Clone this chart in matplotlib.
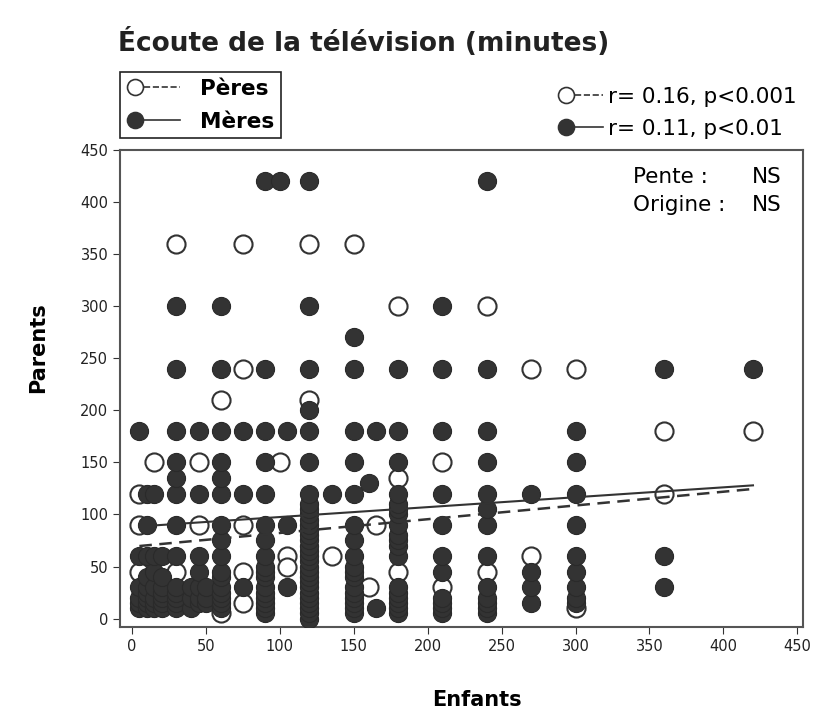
import matplotlib
matplotlib.use("Agg")
import matplotlib.pyplot as plt
from matplotlib.lines import Line2D
from matplotlib.legend_handler import HandlerBase

# --- data: (child minutes, parent minutes) ---
peres_x = [30, 75, 120, 150, 180, 240, 75, 270, 300, 60, 120, 360, 420,
           15, 45, 100, 210, 180, 5, 360, 5, 45, 75, 165,
           105, 135, 270, 5, 30, 75, 105, 180, 240, 160, 210, 75, 60, 300]
peres_y = [360, 360, 360, 360, 300, 300, 240, 240, 240, 210, 210, 180, 180,
           150, 150, 150, 150, 135, 120, 120, 90, 90, 90, 90,
           60, 60, 60, 45, 45, 45, 50, 45, 45, 30, 30, 15, 5, 10]

meres_cols = {
    5:   [10, 15, 20, 30, 60, 180],
    10:  [10, 15, 20, 25, 30, 40, 60, 90, 120],
    15:  [10, 15, 20, 30, 45, 60, 120],
    20:  [10, 15, 20, 25, 30, 40, 60],
    30:  [10, 15, 20, 25, 30, 60, 90, 120, 135, 150, 180, 240, 300],
    40:  [10, 20, 30],
    45:  [15, 20, 30, 45, 60, 120, 180],
    50:  [15, 20, 30],
    60:  [10, 15, 20, 25, 30, 40, 45, 60, 75, 90, 120, 135, 150, 180, 240, 300],
    75:  [30, 120, 180],
    90:  [5, 10, 15, 20, 25, 30, 40, 45, 50, 60, 75, 90, 120, 150, 180, 240, 420],
    100: [420],
    105: [30, 90, 180],
    120: [0, 5, 10, 15, 20, 25, 30, 35, 40, 45, 50, 55, 60, 65, 70, 75, 80, 85,
          90, 95, 100, 105, 110, 120, 150, 180, 200, 240, 300, 420],
    135: [120],
    150: [5, 10, 15, 20, 25, 30, 40, 45, 50, 60, 75, 90, 120, 150, 180, 240, 270],
    160: [130],
    165: [10, 180],
    180: [5, 10, 15, 20, 25, 30, 60, 70, 75, 80, 90, 100, 105, 110, 120, 150, 180, 240],
    210: [5, 10, 15, 20, 45, 60, 90, 120, 180, 240, 300],
    240: [5, 10, 15, 20, 30, 60, 90, 105, 120, 150, 180, 240, 420],
    270: [15, 30, 45, 120],
    300: [15, 20, 30, 45, 60, 90, 120, 150, 180],
    360: [30, 60, 240],
    420: [240],
}
meres_x = [x for x, ys in meres_cols.items() for _ in ys]
meres_y = [y for ys in meres_cols.values() for y in ys]

# regression lines (intercept, slope)
fit_peres = (69, 0.132)
fit_meres = (88, 0.095)
fit_range = [5, 420]

dark = "#333333"


class MarkLine(HandlerBase):
    # marker on the left, then the line
    def create_artists(self, legend, orig, xd, yd, w, h, fontsize, trans):
        ms = orig.get_markersize()
        x0 = -xd
        yc = h / 2 - yd
        m = Line2D([x0 + ms / 2], [yc], marker="o", markersize=ms, linestyle="none",
                   mfc=orig.get_markerfacecolor(), mec=dark, mew=1.2)
        ln = Line2D([x0 + ms + 1, x0 + w], [yc, yc], linestyle=orig.get_linestyle(),
                    color=dark, lw=1.2)
        m.set_transform(trans); ln.set_transform(trans)
        return [m, ln]


fig = plt.figure(figsize=(8.23, 7.10), dpi=100)
ax = fig.add_axes([0.146, 0.117, 0.830, 0.672])

ax.scatter(peres_x, peres_y, s=170, facecolor="white", edgecolor=dark, linewidth=1.5, zorder=2)
ax.scatter(meres_x, meres_y, s=170, facecolor=dark, edgecolor="#2a2a2a", linewidth=0.8, zorder=3)

xs = fit_range
ax.plot(xs, [fit_peres[0] + fit_peres[1] * x for x in xs], "--", color=dark, lw=1.8, zorder=4, dashes=(5, 3))
ax.plot(xs, [fit_meres[0] + fit_meres[1] * x for x in xs], "-", color=dark, lw=1.5, zorder=4)

ax.set_xlim(-8, 454)
ax.set_ylim(-8, 449)
ax.set_xticks(range(0, 451, 50))
ax.set_yticks(range(0, 451, 50))
ax.tick_params(labelsize=10.5, length=5, color=dark, labelcolor="#222222")
for sp in ax.spines.values():
    sp.set_color("#555555"); sp.set_linewidth(1.5)

ax.text(0.751, 0.943, "Pente :", transform=ax.transAxes, fontsize=15.5, va="center")
ax.text(0.925, 0.943, "NS", transform=ax.transAxes, fontsize=15.5, va="center")
ax.text(0.751, 0.885, "Origine :", transform=ax.transAxes, fontsize=15.5, va="center")
ax.text(0.925, 0.885, "NS", transform=ax.transAxes, fontsize=15.5, va="center")

h_p = Line2D([], [], marker="o", markersize=11.5, mfc="white", linestyle="--")
h_m = Line2D([], [], marker="o", markersize=11.5, mfc=dark, linestyle="-")

leg1 = fig.legend([h_p, h_m], ["Pères", "Mères"], handler_map={Line2D: MarkLine()},
                  loc="upper left", bbox_to_anchor=(0.146, 0.898), borderaxespad=0,
                  fancybox=False, edgecolor="#222222", framealpha=1, handlelength=2.5,
                  handletextpad=0.9, borderpad=0.3, labelspacing=0.6,
                  prop={"weight": "bold", "size": 15.5})
leg1.get_frame().set_linewidth(1.2)

fig.legend([h_p, h_m], ["r= 0.16, p<0.001", "r= 0.11, p<0.01"], handler_map={Line2D: MarkLine()},
           loc="upper left", bbox_to_anchor=(0.667, 0.89), borderaxespad=0, frameon=False,
           handlelength=2.1, handletextpad=0.25, labelspacing=0.55, prop={"size": 15.5})

fig.text(0.143, 0.94, "Écoute de la télévision (minutes)", fontsize=19, weight="bold",
         va="center", color="#222222")
fig.text(0.58, 0.014, "Enfants", fontsize=15, weight="bold", ha="center", va="center")
fig.text(0.046, 0.51, "Parents", fontsize=15, weight="bold", rotation=90, ha="center", va="center")

fig.savefig("out.png", dpi=100)
